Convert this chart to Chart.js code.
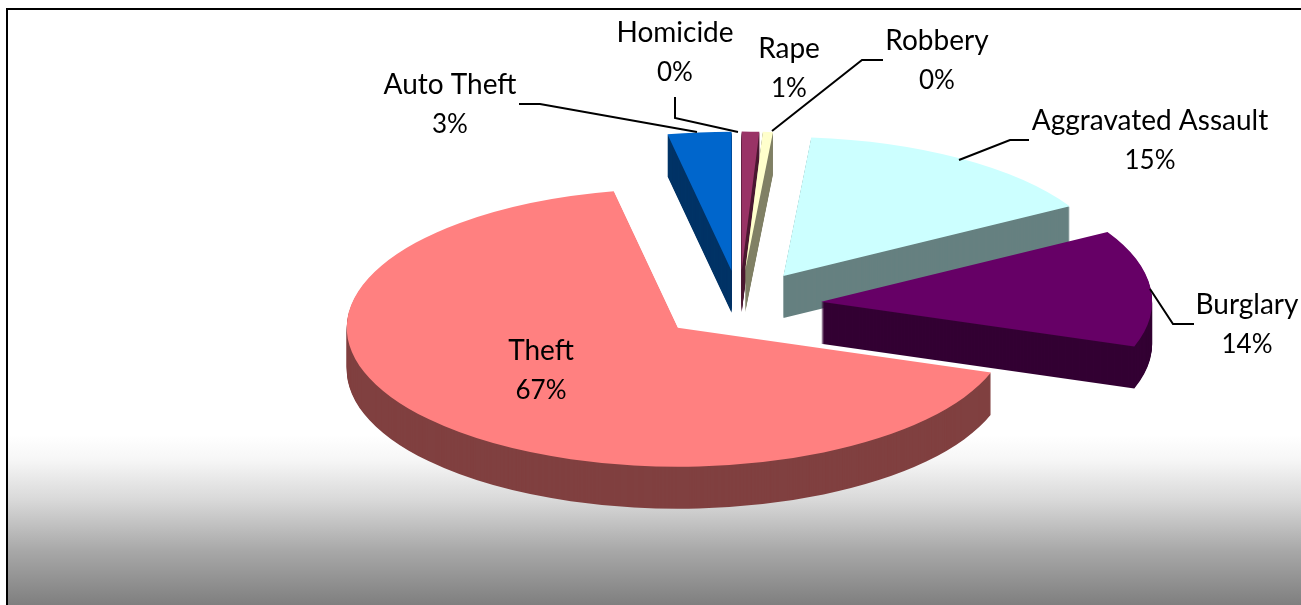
<!DOCTYPE html>
<html>
<head>
<meta charset="utf-8">
<title>Crime share</title>
<script src="https://cdn.jsdelivr.net/npm/chart.js@4/dist/chart.umd.min.js"></script>
<style>
  html, body { margin: 0; padding: 0; background: #fff; }
  canvas { display: block; }
</style>
</head>
<body>
<canvas id="canvas" width="1301" height="605"></canvas>
<script>
const categories = ["Homicide", "Rape", "Robbery", "Aggravated Assault", "Burglary", "Theft", "Auto Theft"];
const crimeShares = [0, 0.85, 0.49, 15.3, 13.6, 66.66, 3.1];
const faceColors = ["#9999FF", "#993366", "#FFFFCC", "#CCFFFF", "#660066", "#FF8080", "#0066CC"];
const sideColors = ["#4D4D80", "#4D1A33", "#808066", "#668080", "#330033", "#804040", "#003366"];

// back to front, so nearer slices cover the sides of the ones behind
const paintOrder = [6, 0, 1, 2, 3, 4, 5];

// where each label goes: centre x, y of first line
const labelSpots = [[675, 33], [789, 49], [937, 41], [1150, 121], [1247, 305], [541, 351], [450, 85]];
const leaderLines = [
    [[675, 97], [675, 118], [738, 132]],
    [[772, 131], [862, 60], [883, 60]],
    [[1029, 140], [1010, 140], [959, 160]],
    [[1150, 289], [1173, 324], [1194, 324]],
    [[519, 104], [540, 104], [697, 132]]
];

const pieRadius = 331;
const squash = 139 / 331;
const explode = 82;
const depth = 42;

function drawArcAt(ctx, arc, drop) {
    const mid = arc.startAngle + arc.circumference / 2;
    ctx.save();
    ctx.translate(arc.x, arc.y + drop);
    ctx.scale(1, squash);
    ctx.translate(-arc.x, -arc.y);
    ctx.translate(Math.cos(mid) * explode, Math.sin(mid) * explode);
    arc.draw(ctx);
    ctx.restore();
}

const frame = {
    id: "frame",
    beforeDraw(chart) {
        const ctx = chart.ctx;
        const grad = ctx.createLinearGradient(0, 435, 0, 605);
        grad.addColorStop(0, "#ffffff");
        grad.addColorStop(0.15, "#f6f6f6");
        grad.addColorStop(0.38, "#d9d9d9");
        grad.addColorStop(0.68, "#a8a8a8");
        grad.addColorStop(1, "#7f7f7f");
        ctx.save();
        ctx.fillStyle = grad;
        ctx.fillRect(7, 9, chart.width - 7, chart.height - 9);
        ctx.strokeStyle = "#000";
        ctx.lineWidth = 2;
        ctx.beginPath();
        ctx.moveTo(7, chart.height);
        ctx.lineTo(7, 9);
        ctx.lineTo(chart.width, 9);
        ctx.stroke();
        ctx.restore();
    }
};

const pie3d = {
    id: "pie3d",
    beforeDatasetsDraw(chart) {
        const ctx = chart.ctx;
        const arcs = chart.getDatasetMeta(0).data;
        paintOrder.forEach(function(i) {
            const arc = arcs[i];
            if (!arc.circumference) return;
            const faceOptions = arc.options;
            arc.options = Object.assign({}, faceOptions, { backgroundColor: sideColors[i] });
            for (let d = depth; d > 0; d--) {
                drawArcAt(ctx, arc, d);
            }
            arc.options = faceOptions;
            drawArcAt(ctx, arc, 0);
        });
        return false;
    }
};

const labels = {
    id: "labels",
    afterDraw(chart) {
        const ctx = chart.ctx;
        const total = crimeShares.reduce(function(a, b) { return a + b; }, 0);
        ctx.save();
        ctx.strokeStyle = "#000";
        ctx.lineWidth = 2;
        leaderLines.forEach(function(line) {
            ctx.beginPath();
            line.forEach(function(p, n) {
                if (n === 0) ctx.moveTo(p[0], p[1]); else ctx.lineTo(p[0], p[1]);
            });
            ctx.stroke();
        });
        ctx.fillStyle = "#000";
        ctx.textAlign = "center";
        ctx.textBaseline = "middle";
        categories.forEach(function(name, i) {
            const spot = labelSpots[i];
            ctx.font = "28px Lato, Carlito, sans-serif";
            ctx.fillText(name, spot[0], spot[1]);
            ctx.font = "26px Lato, Carlito, sans-serif";
            ctx.fillText(Math.round(crimeShares[i] / total * 100) + "%", spot[0], spot[1] + 40);
        });
        ctx.restore();
    }
};

const canvas = document.getElementById("canvas");

new Chart(canvas.getContext("2d"), {
    type: "pie",
    data: {
        labels: categories,
        datasets: [{
            data: crimeShares,
            backgroundColor: faceColors,
            borderWidth: 0,
            radius: pieRadius
        }]
    },
    options: {
        responsive: false,
        animation: false,
        events: [],
        layout: { padding: { left: 178, top: 5 } },
        plugins: {
            legend: { display: false },
            tooltip: { enabled: false }
        }
    },
    plugins: [frame, pie3d, labels]
});
</script>
</body>
</html>
